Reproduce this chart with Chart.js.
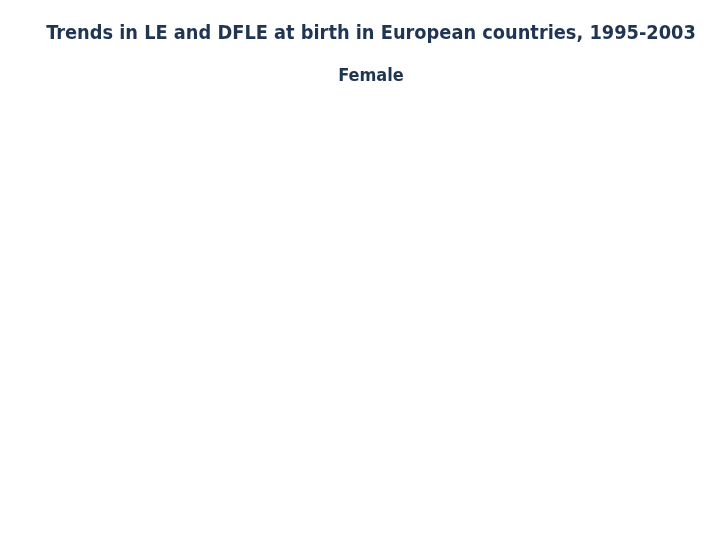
<!DOCTYPE html>
<html>
<head>
<meta charset="utf-8">
<script src="https://cdn.jsdelivr.net/npm/chart.js@4"></script>
<style>
  html,body{margin:0;padding:0;background:#fff;}
  #wrap{width:720px;height:540px;}
</style>
</head>
<body>
<div id="wrap"><canvas id="chart" width="720" height="540"></canvas></div>
<script>
// the reference shows only the heading, the plot area is empty
const titleText = 'Trends in LE and DFLE at birth in European countries, 1995-2003';
const subtitleText = 'Female';
const years = [];
const leValues = [];
const dfleValues = [];

const ctx = document.getElementById('chart');
new Chart(ctx, {
  type:'line',
  data:{
    labels: years,
    datasets:[
      { label:'LE', data: leValues, borderColor:'#1f3552' },
      { label:'DFLE', data: dfleValues, borderColor:'#7a8ea8' }
    ]
  },
  options:{
    responsive:false,
    animation:false,
    layout:{ padding:{ left:22, right:0, top:22 } },
    plugins:{
      legend:{ display:false },
      tooltip:{ enabled:false },
      title:{
        display:true, text:titleText, color:'#1f3552',
        font:{ family:'"DejaVu Sans Condensed", "DejaVu Sans", sans-serif', size:19.8, weight:'bold' },
        padding:{ top:0, bottom:20 }
      },
      subtitle:{
        display:true, text:subtitleText, color:'#1f3552',
        font:{ family:'"DejaVu Sans Condensed", "DejaVu Sans", sans-serif', size:18, weight:'bold' },
        padding:{ top:0, bottom:10 }
      }
    },
    scales:{
      x:{ display:false },
      y:{ display:false }
    }
  }
});
</script>
</body>
</html>
